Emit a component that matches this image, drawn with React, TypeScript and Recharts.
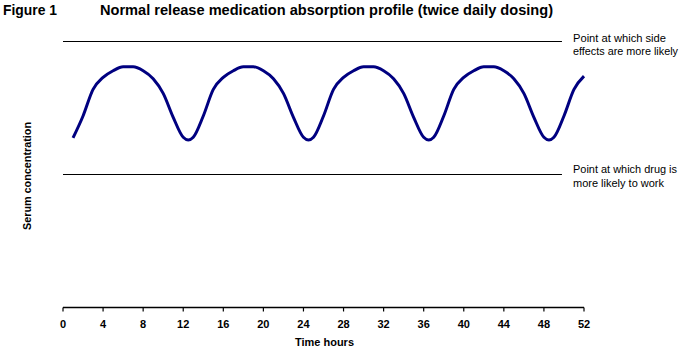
import React from "react";
import { LineChart, Line, XAxis, YAxis, ReferenceLine } from "recharts";

const hours = [1, 2, 3, 4, 5, 6, 7, 8, 9, 10, 11, 12, 12.5, 13, 14, 15, 16, 17, 18, 19, 20, 21, 22, 23, 24, 24.5, 25, 26, 27, 28, 29, 30, 31, 32, 33, 34, 35, 36, 36.5, 37, 38, 39, 40, 41, 42, 43, 44, 45, 46, 47, 48, 48.5, 49, 50, 51, 52];
const serum = [1.275, 1.44, 1.64, 1.73, 1.78, 1.81, 1.81, 1.78, 1.72, 1.61, 1.43, 1.28, 1.26, 1.28, 1.44, 1.64, 1.73, 1.78, 1.81, 1.81, 1.78, 1.72, 1.61, 1.43, 1.28, 1.26, 1.28, 1.44, 1.64, 1.73, 1.78, 1.81, 1.81, 1.78, 1.72, 1.61, 1.43, 1.28, 1.26, 1.28, 1.44, 1.64, 1.73, 1.78, 1.81, 1.81, 1.78, 1.72, 1.61, 1.43, 1.28, 1.26, 1.28, 1.44, 1.64, 1.74];
const xTicks = [0, 4, 8, 12, 16, 20, 24, 28, 32, 36, 40, 44, 48, 52];
const yTicks = [0, 1, 2];
const sideEffectLevel = 2;
const workLevel = 1;
const lineEndHour = 49.8;

const data = hours.map((h, i) => ({ h, v: serum[i] }));

const font = "'Liberation Sans', Arial, sans-serif";

const NoTick = () => <g />;

export default function App() {
  return (
    <div style={{ position: "absolute", left: 0, top: 0, width: 683, height: 351, background: "#fff" }}>
      <LineChart width={683} height={351} data={data} margin={{ top: 41.5, right: 99, bottom: 0, left: 63 }}>
        <XAxis
          dataKey="h"
          type="number"
          domain={[0, 52]}
          ticks={xTicks}
          interval={0}
          height={43.5}
          tickSize={4}
          tickMargin={9}
          stroke="#000"
          axisLine={{ stroke: "#000", strokeWidth: 1.5 }}
          tickLine={{ stroke: "#000", strokeWidth: 1.2 }}
          tick={{ fill: "#000", fontSize: 11, fontWeight: "bold", fontFamily: font }}
        />
        <YAxis
          type="number"
          domain={[0, 2]}
          ticks={yTicks}
          width={0}
          tickSize={4}
          tick={<NoTick />}
          axisLine={{ stroke: "#000", strokeWidth: 1.5 }}
          tickLine={{ stroke: "#000", strokeWidth: 1.2 }}
        />
        <ReferenceLine segment={[{ x: 0, y: sideEffectLevel }, { x: lineEndHour, y: sideEffectLevel }]} stroke="#000" strokeWidth={1} />
        <ReferenceLine segment={[{ x: 0, y: workLevel }, { x: lineEndHour, y: workLevel }]} stroke="#000" strokeWidth={1} />
        <Line dataKey="v" type="monotone" stroke="#000080" strokeWidth={3} dot={false} isAnimationActive={false} />
      </LineChart>
      <svg width={683} height={351} style={{ position: "absolute", left: 0, top: 0, pointerEvents: "none" }}>
        <g fontFamily={font} fill="#000">
          <text x={3} y={15} fontSize={15} fontWeight="bold" textLength={54} lengthAdjust="spacingAndGlyphs">Figure 1</text>
          <text x={100} y={15} fontSize={15} fontWeight="bold" textLength={453} lengthAdjust="spacingAndGlyphs">Normal release medication absorption profile (twice daily dosing)</text>
          <text x={573} y={42} fontSize={11} textLength={93} lengthAdjust="spacingAndGlyphs">Point at which side</text>
          <text x={573} y={55} fontSize={11} textLength={105} lengthAdjust="spacingAndGlyphs">effects are more likely</text>
          <text x={573} y={173} fontSize={11} textLength={104} lengthAdjust="spacingAndGlyphs">Point at which drug is</text>
          <text x={573} y={186.5} fontSize={11} textLength={91} lengthAdjust="spacingAndGlyphs">more likely to work</text>
          <text x={324.5} y={346} fontSize={11} fontWeight="bold" textAnchor="middle" textLength={59} lengthAdjust="spacingAndGlyphs">Time hours</text>
          <text x={0} y={0} fontSize={11} fontWeight="bold" textAnchor="middle" textLength={108} lengthAdjust="spacingAndGlyphs" transform="translate(31,176) rotate(-90)">Serum concentration</text>
        </g>
      </svg>
    </div>
  );
}
